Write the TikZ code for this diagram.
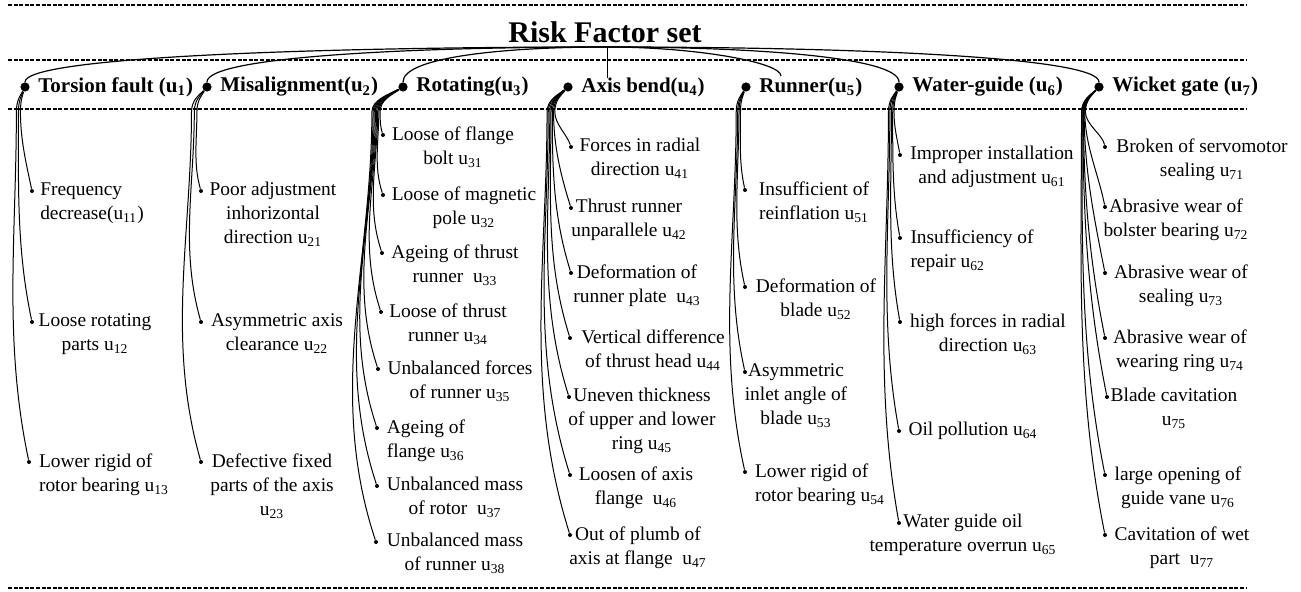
\documentclass[tikz,border=0pt]{standalone}
\usepackage{fontspec}
\setmainfont{Liberation Serif}
\usetikzlibrary{positioning}
\newcommand{\fidx}[1]{u\textsubscript{#1}}

\begin{document}
\begin{tikzpicture}[
    x = 0.5pt, y = -0.5pt,
    dashline/.style = {line width=0.8pt, dash pattern=on 2pt off 0.8pt},
    catdot/.style = {circle, fill, inner sep=0pt, minimum size=4.6pt},
    dot/.style = {circle, fill, inner sep=0pt, minimum size=2pt},
    cattext/.style = {font=\fontsize{10.5}{12}\selectfont\bfseries, inner sep=0pt},
    itemtext/.style = {font=\fontsize{9.7}{12}\selectfont, inner sep=0pt, anchor=north},
    link/.style = {line width=0.6pt},
    fanline/.style = {line width=0.5pt}
]
    \useasboundingbox (0,0) rectangle (1301,592);

    % Rules
    \foreach \yy in {5,60,109,588}
        \draw[dashline] (8,\yy) -- (1246,\yy);

    % Title and root
    \node[font=\fontsize{15}{18}\selectfont\bfseries] (title) at (605,32) {Risk Factor set};
    \coordinate (root) at (607,47);

    % Factors
    \node[catdot] (u1) at (25,87) {};
    \node[catdot] (u2) at (207,87) {};
    \node[catdot] (u3) at (403,87) {};
    \node[catdot] (u4) at (568,87) {};
    \node[catdot] (u5) at (746,87) {};
    \node[catdot] (u6) at (899,87) {};
    \node[catdot] (u7) at (1099,87) {};
    \node[cattext, right=4pt of u1] (u1t) {Torsion fault (\fidx{1})};
    \node[cattext, right=4pt of u2] (u2t) {Misalignment(\fidx{2})};
    \node[cattext, right=4pt of u3] (u3t) {Rotating(\fidx{3})};
    \node[cattext, right=4pt of u4] (u4t) {Axis bend(\fidx{4})};
    \node[cattext, right=4pt of u5] (u5t) {Runner(\fidx{5})};
    \node[cattext, right=4pt of u6] (u6t) {Water-guide (\fidx{6})};
    \node[cattext, right=4pt of u7] (u7t) {Wicket gate (\fidx{7})};

    % Root to factors
    \coordinate (axs4) at (607,78);
    \coordinate (run5) at (781,76);
    \foreach \c/\cxx/\dy in {u1/25/30, u2/207/30, u3/403/30, u6/899/30, u7/1099/30, run5/781/14}
        \draw[link] (root) .. controls +({0.5*(\cxx-607)},0) and +(0,-\dy) .. (\c);
    \draw[line width=0.4pt] (root) -- (axs4);

    % Torsion fault
    \foreach \nm/\bx/\by/\cx/\al/\txt in {
        u11/32/191/92/left/{Frequency\\decrease(\fidx{11})},
        u12/32/322/95/center/{Loose rotating\\parts \fidx{12}},
        u13/29/462/104/left/{Lower rigid of\\rotor bearing \fidx{13}}}{
        \node[dot] (\nm) at (\bx,\by) {};
        \node[itemtext, align/.expanded=\al] (\nm-t) at ({\cx},{\by-9}) {\txt};
        \pgfmathsetmacro\jx{25-3-0.015*(\by-87)}
        \pgfmathsetmacro\lt{\by-112}
        \draw[fanline] (u1) .. controls +({0.5*(\jx-25)},8) and +(0,-12) .. (\jx,112)
            .. controls +(0,{0.35*\lt}) and +({-0.074*\lt},{-0.35*\lt}) .. (\nm);
    }

    % Misalignment
    \foreach \nm/\bx/\by/\cx/\al/\txt in {
        u21/201/191/273/center/{Poor adjustment\\inhorizontal\\direction \fidx{21}},
        u22/201/322/277/center/{Asymmetric axis\\clearance \fidx{22}},
        u23/201/462/272/center/{Defective fixed\\parts of the axis\\\fidx{23}}}{
        \node[dot] (\nm) at (\bx,\by) {};
        \node[itemtext, align/.expanded=\al] (\nm-t) at ({\cx},{\by-9}) {\txt};
        \pgfmathsetmacro\jx{207-8-0.02*(\by-87)}
        \pgfmathsetmacro\lt{\by-112}
        \draw[fanline] (u2) .. controls +({0.5*(\jx-207)},8) and +(0,-12) .. (\jx,112)
            .. controls +(0,{0.35*\lt}) and +({-0.1*\lt},{-0.35*\lt}) .. (\nm);
    }

    % Rotating
    \foreach \nm/\bx/\by/\cx/\al/\txt in {
        u31/383/135/453/center/{Loose of flange\\bolt \fidx{31}},
        u32/383/195/464/center/{Loose of magnetic\\pole \fidx{32}},
        u33/382/253/455/center/{Ageing of thrust\\runner~~\fidx{33}},
        u34/381/312/448/center/{Loose of thrust\\runner \fidx{34}},
        u35/378/369/460/center/{Unbalanced forces\\of runner \fidx{35}},
        u36/377/428/426/left/{Ageing of\\flange \fidx{36}},
        u37/377/486/455/center/{Unbalanced mass\\of rotor~~\fidx{37}},
        u38/376/542/455/center/{Unbalanced mass\\of runner \fidx{38}}}{
        \node[dot] (\nm) at (\bx,\by) {};
        \node[itemtext, align/.expanded=\al] (\nm-t) at ({\cx},{\by-9}) {\txt};
        \pgfmathsetmacro\jx{403-22-0.02*(\by-87)}
        \pgfmathsetmacro\lt{\by-112}
        \draw[fanline] (u3) .. controls +({0.5*(\jx-403)},8) and +(0,-12) .. (\jx,112)
            .. controls +(0,{0.35*\lt}) and +({-0.116*\lt},{-0.35*\lt}) .. (\nm);
    }

    % Axis bend
    \foreach \nm/\bx/\by/\cx/\al/\txt in {
        u41/571/147/640/center/{Forces in radial\\direction \fidx{41}},
        u42/571/208/629/center/{Thrust runner\\unparallele \fidx{42}},
        u43/571/273/637/center/{Deformation of\\runner plate~~\fidx{43}},
        u44/570/338/653/center/{Vertical difference\\of thrust head \fidx{44}},
        u45/569/397/642/center/{Uneven thickness\\of upper and lower\\ring \fidx{45}},
        u46/570/475/636/center/{Loosen of axis\\flange~~\fidx{46}},
        u47/570/535/638/center/{Out of plumb of\\axis at flange~~\fidx{47}}}{
        \node[dot] (\nm) at (\bx,\by) {};
        \node[itemtext, align/.expanded=\al] (\nm-t) at ({\cx},{\by-9}) {\txt};
        \pgfmathsetmacro\jx{568-12-0.02*(\by-87)}
        \pgfmathsetmacro\lt{\by-112}
        \draw[fanline] (u4) .. controls +({0.5*(\jx-568)},8) and +(0,-12) .. (\jx,112)
            .. controls +(0,{0.35*\lt}) and +({-0.11*\lt},{-0.35*\lt}) .. (\nm);
    }

    % Runner
    \foreach \nm/\bx/\by/\cx/\al/\txt in {
        u51/745/190/814/center/{Insufficient of\\reinflation \fidx{51}},
        u52/745/287/816/center/{Deformation of\\blade \fidx{52}},
        u53/745/372/796/center/{Asymmetric\\inlet angle of\\blade \fidx{53}},
        u54/745/472/820/left/{Lower rigid of\\rotor bearing \fidx{54}}}{
        \node[dot] (\nm) at (\bx,\by) {};
        \node[itemtext, align/.expanded=\al] (\nm-t) at ({\cx},{\by-9}) {\txt};
        \pgfmathsetmacro\jx{746-4-0.015*(\by-87)}
        \pgfmathsetmacro\lt{\by-112}
        \draw[fanline] (u5) .. controls +({0.5*(\jx-746)},8) and +(0,-12) .. (\jx,112)
            .. controls +(0,{0.35*\lt}) and +({-0.078*\lt},{-0.35*\lt}) .. (\nm);
    }

    % Water-guide
    \foreach \nm/\bx/\by/\cx/\al/\txt in {
        u61/900/155/992/center/{Improper installation\\and adjustment \fidx{61}},
        u62/900/238/972/left/{Insufficiency of\\repair \fidx{62}},
        u63/900/322/988/center/{high forces in radial\\direction \fidx{63}},
        u64/899/431/973/center/{Oil pollution \fidx{64}},
        u65/899/523/963/center/{Water guide oil\\temperature overrun \fidx{65}}}{
        \node[dot] (\nm) at (\bx,\by) {};
        \node[itemtext, align/.expanded=\al] (\nm-t) at ({\cx},{\by-9}) {\txt};
        \pgfmathsetmacro\jx{899-4-0.015*(\by-87)}
        \pgfmathsetmacro\lt{\by-112}
        \draw[fanline] (u6) .. controls +({0.5*(\jx-899)},8) and +(0,-12) .. (\jx,112)
            .. controls +(0,{0.35*\lt}) and +({-0.063*\lt},{-0.35*\lt}) .. (\nm);
    }

    % Wicket gate
    \foreach \nm/\bx/\by/\cx/\al/\txt in {
        u71/1105/147/1202/center/{Broken of servomotor\\sealing \fidx{71}},
        u72/1105/207/1176/center/{Abrasive wear of\\bolster bearing \fidx{72}},
        u73/1105/273/1181/center/{Abrasive wear of\\sealing \fidx{73}},
        u74/1105/338/1180/center/{Abrasive wear of\\wearing ring \fidx{74}},
        u75/1107/397/1174/center/{Blade cavitation\\\fidx{75}},
        u76/1105/475/1178/center/{large opening of\\guide vane \fidx{76}},
        u77/1105/535/1182/center/{Cavitation of wet\\part~~\fidx{77}}}{
        \node[dot] (\nm) at (\bx,\by) {};
        \node[itemtext, align/.expanded=\al] (\nm-t) at ({\cx},{\by-9}) {\txt};
        \pgfmathsetmacro\jx{1099-13-0.01*(\by-87)}
        \pgfmathsetmacro\lt{\by-112}
        \draw[fanline] (u7) .. controls +({0.5*(\jx-1099)},8) and +(0,-12) .. (\jx,112)
            .. controls +(0,{0.35*\lt}) and +({-0.07*\lt},{-0.35*\lt}) .. (\nm);
    }

\end{tikzpicture}
\end{document}
